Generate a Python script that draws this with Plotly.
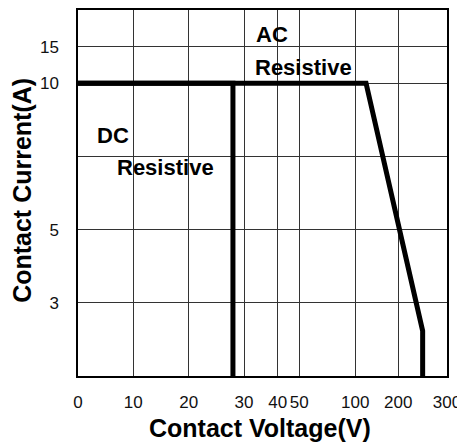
import numpy as np
import plotly.graph_objects as go

# ---- data ----
x_tick_labels = ["0", "10", "20", "30", "40", "50", "100", "200", "300"]
x_tick_values = [0, 10, 20, 30, 40, 50, 100, 200, 300]
y_tick_values = [3, 5, 7.5, 10, 15]
y_tick_labels = ["3", "5", "", "10", "15"]

dc_voltage = [0, 28, 28]
dc_current = [10, 10, 0]
ac_voltage = [0, 125, 250, 250]
ac_current = [10, 10, 1.85, 0]

# ---- non-uniform axis scales (layout) ----
X_SCALE_VALUES = [0, 10, 20, 30, 40, 50, 100, 200, 300]
X_SCALE_POS = [0, 55.3, 110.7, 166, 199.7, 221.3, 277.3, 320.3, 369]
Y_SCALE_VALUES = [0, 3, 5, 10, 15, 20]
Y_SCALE_POS = [0, 1, 2, 4, 4.5, 5]


def xs(v):
    return np.interp(v, X_SCALE_VALUES, X_SCALE_POS)


def ys(v):
    return np.interp(v, Y_SCALE_VALUES, Y_SCALE_POS)


fig = go.Figure()
fig.add_trace(go.Scatter(x=xs(ac_voltage), y=ys(ac_current), mode="lines",
                         line=dict(color="black", width=5), hoverinfo="skip"))
fig.add_trace(go.Scatter(x=xs(dc_voltage), y=ys(dc_current), mode="lines",
                         line=dict(color="black", width=5), hoverinfo="skip"))

FONT = "Liberation Sans, Arial, sans-serif"
grid = "#333"

fig.update_layout(
    width=457, height=440,
    margin=dict(l=70, r=18, t=0, b=72, pad=0),
    paper_bgcolor="white", plot_bgcolor="white",
    showlegend=False,
    font=dict(family=FONT, color="black"),
    xaxis=dict(range=[0, 369], tickmode="array", tickvals=list(xs(x_tick_values)),
               ticktext=x_tick_labels, showgrid=True, gridcolor=grid, gridwidth=1,
               zeroline=False, showline=True, linecolor="black", linewidth=1.5,
               mirror=True, ticks="", tickfont=dict(size=17, color="#111"),
               ticklabelstandoff=10, fixedrange=True),
    yaxis=dict(range=[0, 5], tickmode="array", tickvals=list(ys(y_tick_values)),
               ticktext=y_tick_labels, showgrid=True, gridcolor=grid, gridwidth=1,
               zeroline=False, showline=True, linecolor="black", linewidth=1.5,
               mirror=True, ticks="", tickfont=dict(size=17, color="#111"),
               ticklabelstandoff=14, fixedrange=True),
)

# white boxes behind labels (above grid, below traces)
for x0, x1, y0, y1 in [(0.005, 0.415, 0.486, 0.701), (0.458, 0.694, 0.807, 0.976)]:
    fig.add_shape(type="rect", xref="paper", yref="paper", x0=x0, x1=x1, y0=y0, y1=y1,
                  fillcolor="white", line=dict(width=0), layer="between")

labels = [("DC", 0.046, 0.656), ("Resistive", 0.100, 0.570),
          ("AC", 0.477, 0.932), ("Resistive", 0.473, 0.842)]
for t, px, py in labels:
    fig.add_annotation(text="<b>%s</b>" % t, xref="paper", yref="paper", x=px, y=py,
                       xanchor="left", yanchor="middle", showarrow=False,
                       font=dict(family=FONT, size=22, color="black"))

fig.add_annotation(text="<b>Contact Voltage(V)</b>", xref="paper", yref="paper",
                   x=0.493, y=-0.1426, xanchor="center", yanchor="middle",
                   showarrow=False, font=dict(family=FONT, size=25, color="black"))
fig.add_annotation(text="<b>Contact Current(A)</b>", xref="paper", yref="paper",
                   x=-0.150, y=0.5076, xanchor="center", yanchor="middle",
                   textangle=-90, showarrow=False,
                   font=dict(family=FONT, size=25, color="black"))

fig.write_html("out.html", config={"displayModeBar": False})
